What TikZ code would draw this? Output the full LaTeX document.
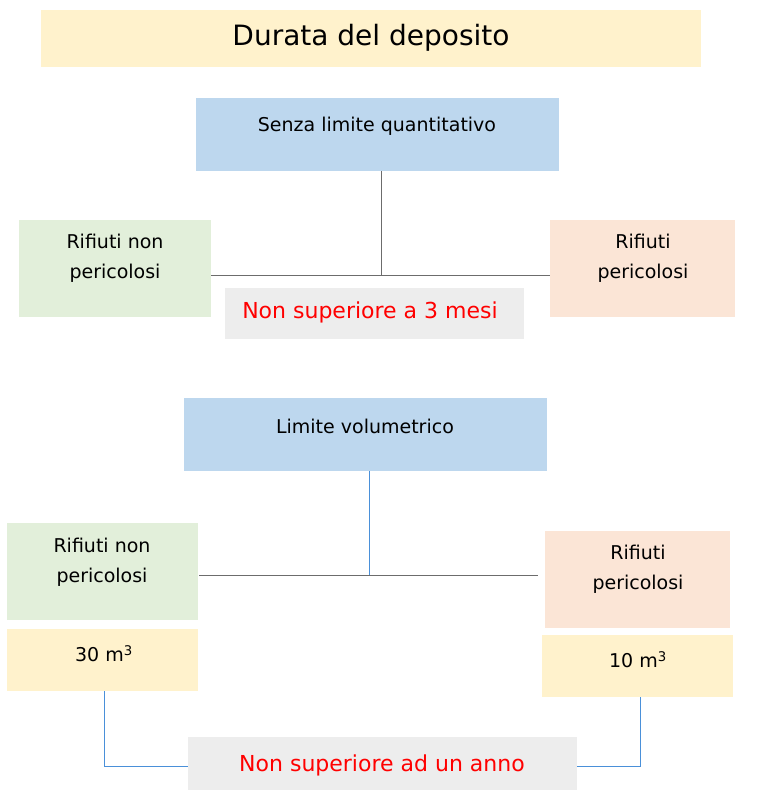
\documentclass[tikz,border=0pt]{standalone}
\usepackage{fontspec}
\setmainfont{DejaVu Sans}
\begin{document}
\begin{tikzpicture}[x=1pt,y=-1pt,
 lbl/.style={align=center,font=\fontsize{19}{30}\selectfont,text=black},
 gl/.style={draw=gray!85!black,line width=0.8pt},
 bl/.style={draw=cbl,line width=0.9pt}]
\definecolor{cy}{HTML}{FFF2CC}\definecolor{cb}{HTML}{BDD7EE}\definecolor{cbl}{HTML}{4A90D9}
\definecolor{cg}{HTML}{E2EFDA}\definecolor{cp}{HTML}{FBE5D6}\definecolor{cgr}{HTML}{EDEDED}
\useasboundingbox (0,0) rectangle (760,808);
\fill[cy] (41,10) rectangle (701,67);
\node[lbl,font=\fontsize{28}{32}\selectfont] (t) at (371,38) {Durata del deposito};
\fill[cb] (196,98) rectangle (559,171);
\node[lbl] (s) at (377,126) {Senza limite quantitativo};
\coordinate (sb) at (381,171);
\fill[cg] (19,220) rectangle (211,317);
\node[lbl] (g1) at (115,258) {Rifiuti non\\pericolosi};
\fill[cp] (550,220) rectangle (735,317);
\node[lbl] (p1) at (643,258) {Rifiuti\\pericolosi};
\coordinate (j1) at (381,275);
\coordinate (l1) at (211,275);\coordinate (r1) at (550,275);
\draw[gl] (sb) -- (j1); \draw[gl] (l1) -- (r1);
\fill[cgr] (225,288) rectangle (524,339);
\node[lbl,text=red,font=\fontsize{22}{26}\selectfont] (n1) at (370,312) {Non superiore a 3 mesi};
\fill[cb] (184,398) rectangle (547,471);
\node[lbl] (v) at (365,426) {Limite volumetrico};
\coordinate (vb) at (369,471);\coordinate (j2) at (369,575);
\coordinate (l2) at (199,575);\coordinate (r2) at (538,575);
\draw[bl] (vb) -- (j2); \draw[gl] (l2) -- (r2);
\fill[cg] (7,523) rectangle (198,620);
\node[lbl] (g2) at (102,562) {Rifiuti non\\pericolosi};
\fill[cy] (7,629) rectangle (198,691);
\node[lbl] (y1) at (104,654) {30 m\textsuperscript{3}};
\fill[cp] (545,531) rectangle (730,628);
\node[lbl] (p2) at (638,569) {Rifiuti\\pericolosi};
\fill[cy] (542,635) rectangle (733,697);
\node[lbl] (y2) at (638,660) {10 m\textsuperscript{3}};
\fill[cgr] (188,737) rectangle (577,790);
\node[lbl,text=red,font=\fontsize{22}{26}\selectfont] (n2) at (382,765) {Non superiore ad un anno};
\coordinate (a1) at (104,691);\coordinate (a2) at (104,766);\coordinate (a3) at (188,766);
\coordinate (b1) at (640,697);\coordinate (b2) at (640,766);\coordinate (b3) at (577,766);
\draw[bl] (a1) -- (a2) -- (a3);
\draw[bl] (b1) -- (b2) -- (b3);
\end{tikzpicture}
\end{document}
